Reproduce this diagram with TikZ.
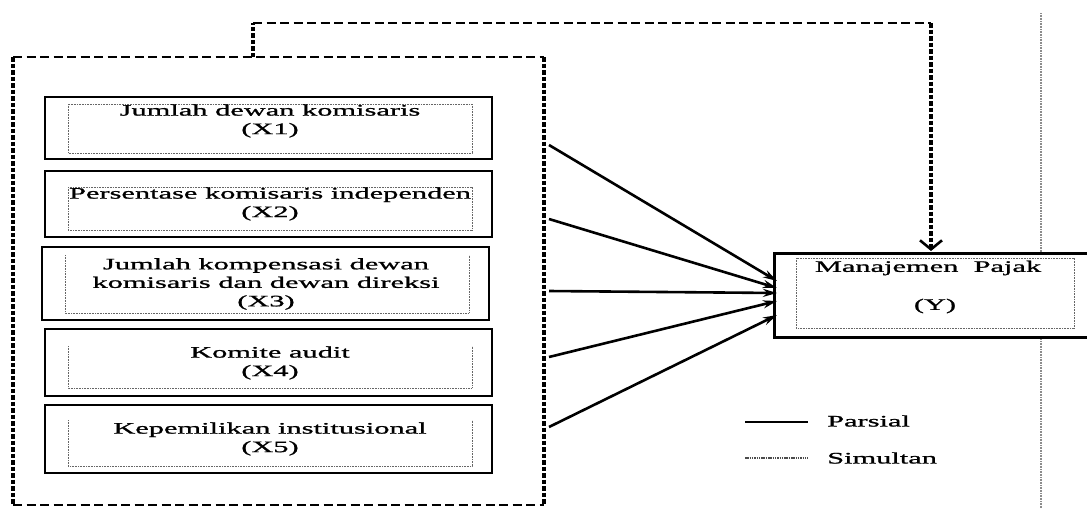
\documentclass[tikz,border=0pt]{standalone}
\usepackage{fontspec}
\setmainfont{Liberation Serif}[FakeStretch=1.9,FakeBold=1.2]
\usetikzlibrary{arrows.meta}
\begin{document}
\begin{tikzpicture}[x=1pt,y=-1pt,
  solidbox/.style={draw, line width=2.9pt, fill=white, inner sep=0pt},
  dotbox/.style={draw=black!60, line width=1pt, dash pattern=on 1pt off 0.6pt},
  lbl/.style={font=\fontsize{16}{18.5}\selectfont, align=center, inner sep=0pt},
  hdash/.style={line width=2.5pt, dash pattern=on 9pt off 4.5pt},
  vdash/.style={line width=3.4pt, dash pattern=on 4.5pt off 2pt},
  arr/.style={-{Stealth[length=14pt,width=8pt]}, line width=2.6pt},
  simarr/.style={-{Straight Barb[length=9pt,width=22pt,line width=2.6pt]}}
]
\useasboundingbox (0,0) rectangle (1087,515);
\clip (0,0) rectangle (1087,515);

% outer dashed frame
\coordinate (f1) at (13,57);
\coordinate (f2) at (544,57);
\coordinate (f3) at (544,505);
\coordinate (f4) at (13,505);
\draw[hdash] (f1) -- (f2);
\draw[hdash] (f4) -- (f3);
\draw[vdash] (f1) -- (f4);
\draw[vdash] (f2) -- (f3);

% gray vertical line
\coordinate (g1) at (1041,13);
\coordinate (g2) at (1041,508);
\draw[black!45, line width=1.6pt, dash pattern=on 1pt off 0.6pt] (g1) -- (g2);

% left boxes
\node[solidbox, minimum width=447pt, minimum height=62pt] (b1) at (268.5,128) {};
\node[solidbox, minimum width=447pt, minimum height=66pt] (b2) at (268.5,204) {};
\node[solidbox, minimum width=447pt, minimum height=73pt] (b3) at (265.5,283.5) {};
\node[solidbox, minimum width=447pt, minimum height=67pt] (b4) at (268.5,362.5) {};
\node[solidbox, minimum width=447pt, minimum height=68pt] (b5) at (268.5,439) {};

% inner dotted frames
\draw[dotbox] (68,104) rectangle (472,153);
\draw[dotbox] (68,187) rectangle (472,230);
\draw[dotbox] (65,255) -- (65,313) -- (469,313) -- (469,255);
\draw[dotbox] (68,346) -- (68,388) -- (472,388) -- (472,346);
\draw[dotbox] (68,420) -- (68,466) -- (472,466) -- (472,420);

% texts
\node[lbl] (t1) at (270,121) {Jumlah dewan komisaris\\(X1)};
\node[lbl] (t2) at (270,204) {Persentase komisaris independen\\(X2)};
\node[lbl] (t3) at (266,284) {Jumlah kompensasi dewan\\komisaris dan dewan direksi\\(X3)};
\node[lbl] (t4) at (270,363) {Komite audit\\(X4)};
\node[lbl] (t5) at (270,439) {Kepemilikan institusional\\(X5)};

% Y box
\node[solidbox, minimum width=330pt, minimum height=84pt, anchor=north west] (y) at (773,252) {};
\draw[dotbox] (796,258) rectangle (1074,328);
\node[lbl] (ty1) at (928,268) {Manajemen\ \ Pajak};
\node[lbl] (ty2) at (935,306) {(Y)};

% partial arrows
\coordinate (s1) at (549,145);
\coordinate (s2) at (549,219);
\coordinate (s3) at (549,291);
\coordinate (s4) at (549,357);
\coordinate (s5) at (549,427);
\coordinate (e1) at (777,281);
\coordinate (e2) at (777,288);
\coordinate (e3) at (777,293);
\coordinate (e4) at (777,301);
\coordinate (e5) at (777,315);
\foreach \i in {1,...,5} \draw[arr] (s\i) -- (e\i);

% simultaneous connector
\coordinate (c0) at (253,57);
\coordinate (c1) at (253,23);
\coordinate (c2) at (931,23);
\coordinate (c3) at (931,251);
\draw[vdash] (c0) -- (c1);
\draw[hdash] (c1) -- (c2);
\draw[vdash, simarr] (c2) -- (c3);

% legend
\coordinate (p1) at (745,422);
\coordinate (p2) at (808,422);
\coordinate (q1) at (745,458);
\coordinate (q2) at (808,458);
\draw[line width=1.1pt] (p1) -- (p2);
\draw[line width=1.1pt, black!70, dash pattern=on 1.5pt off 0.8pt] (q1) -- (q2);
\node[lbl, anchor=west] (lp) at (827,421) {Parsial};
\node[lbl, anchor=west] (ls) at (827,458) {Simultan};
\end{tikzpicture}
\end{document}
